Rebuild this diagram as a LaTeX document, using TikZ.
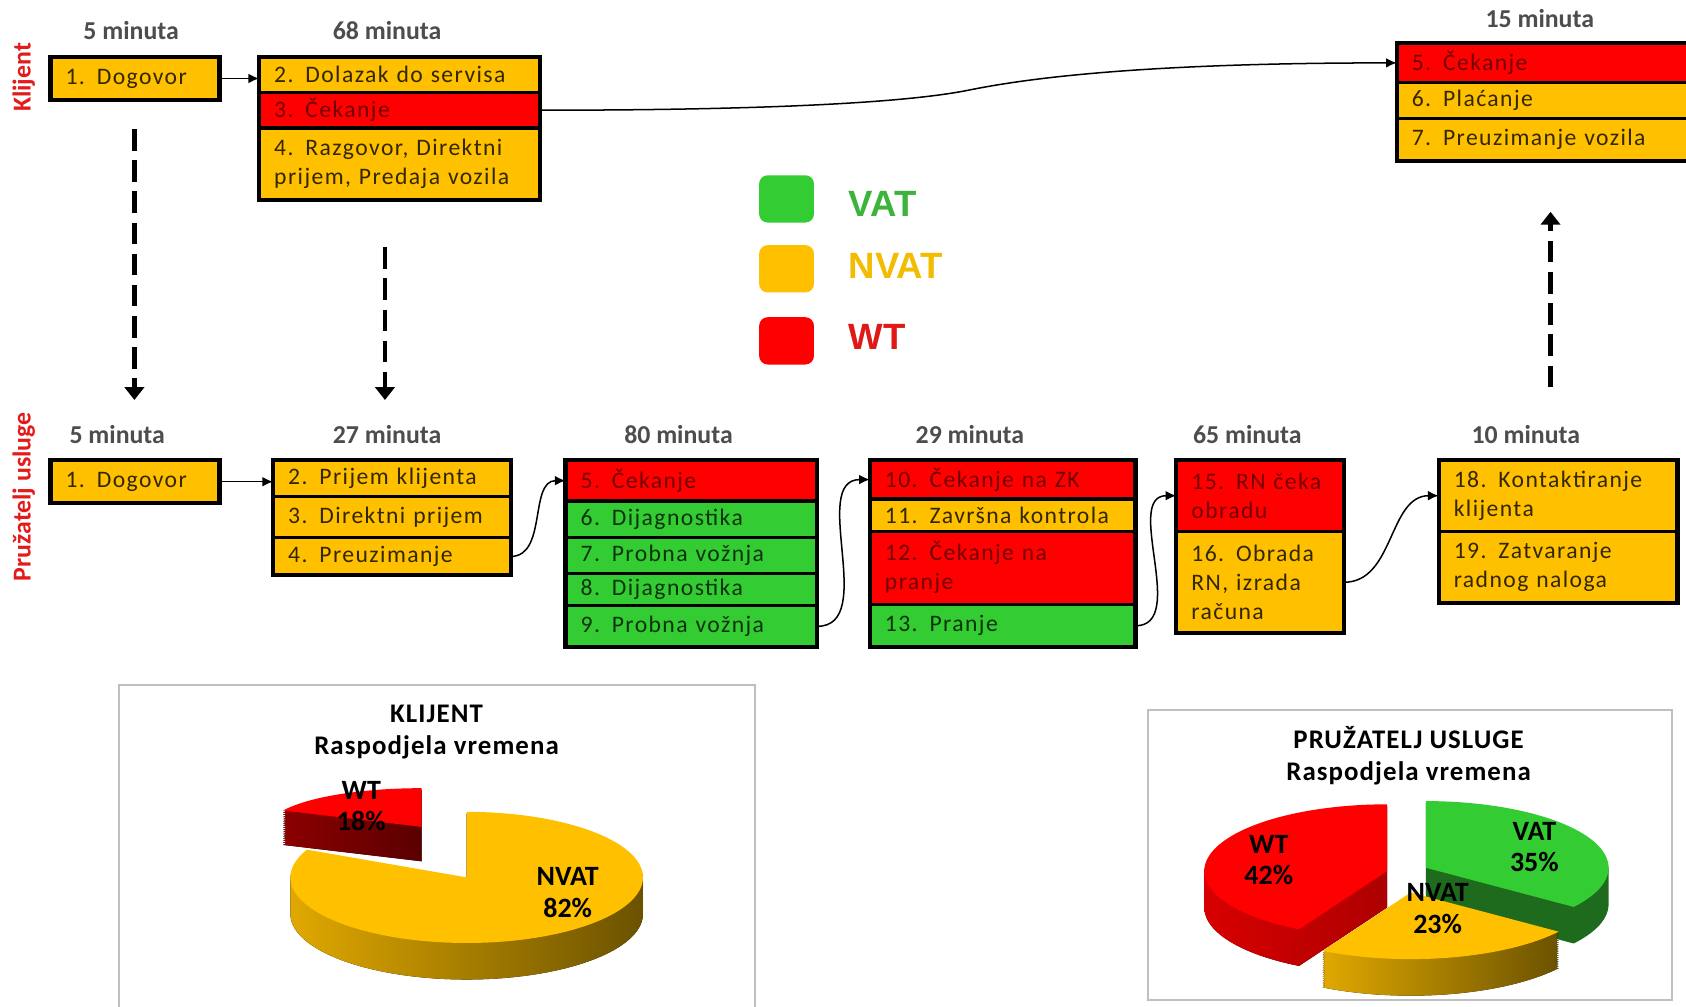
\documentclass[tikz,border=0pt]{standalone}
\usepackage{fontspec}
\setmainfont{Carlito}
\newfontfamily\boxfont{Carlito}[LetterSpace=6]
\newfontfamily\titlefont{Carlito}[LetterSpace=4]
\newfontfamily\legfont{Liberation Sans}
\usetikzlibrary{arrows.meta}

\definecolor{ylw}{HTML}{FFC000}
\definecolor{rd}{HTML}{FF0000}
\definecolor{grn}{HTML}{33CC33}
\definecolor{mingray}{HTML}{4D4D4D}
\definecolor{lanered}{HTML}{E31B1B}
\definecolor{vattext}{HTML}{3CB43C}
\definecolor{nvattext}{HTML}{F2BC00}
\definecolor{wttext}{HTML}{E01818}
\definecolor{ylwsideL}{HTML}{E0A800}
\definecolor{ylwsideR}{HTML}{6B5200}
\definecolor{redsideL}{HTML}{8C0000}
\definecolor{redsideR}{HTML}{5A0000}
\definecolor{redside}{HTML}{D80000}
\definecolor{grnside}{HTML}{1E6B1E}

\tikzset{%
  every node/.style={
    inner sep=1pt
  },
  actbox/.style={draw=black, line width=1.5pt, outer sep=0pt, inner xsep=7pt, inner ysep=2pt,
    align=left, font={\boxfont\fontsize{11}{13.5}\selectfont}},
  ylwrow/.style={actbox, fill=ylw, text=black!80!ylw},
  redrow/.style={actbox, fill=rd, text=black!55!rd},
  grnrow/.style={actbox, fill=grn, text=black!75!grn},
  boxframe/.style={draw=black, line width=2pt},
  minlabel/.style={font={\bfseries\fontsize{12}{14}\selectfont}, text=mingray},
  lanelabel/.style={font={\bfseries\fontsize{12}{14}\selectfont}, text=lanered, rotate=90},
  flow/.style={-{Latex[length=5pt,width=4.5pt]}, line width=0.7pt},
  dasharrow/.style={-{Triangle[length=6pt,width=9pt]}, line width=2.2pt, dash pattern=on 10pt off 4.5pt},
  legbox/.style={rounded corners=4pt, minimum width=25.5pt, minimum height=22pt},
  legtext/.style={font={\legfont\bfseries\fontsize{17}{20}\selectfont}, anchor=west},
  chartbox/.style={draw=black!25, line width=1pt},
  charttitle/.style={font={\titlefont\bfseries\fontsize{12.5}{15}\selectfont}, align=center},
  pielabel/.style={font={\bfseries\fontsize{13}{14.5}\selectfont}, align=center}
}

\begin{document}
\begin{tikzpicture}[x=0.5pt, y=-0.5pt]
      \useasboundingbox (0,0) rectangle (1568,936);
      \fill[white] (0,0) rectangle (1568,936);

      \node[lanelabel] (kl) at (22,72) {Klijent};
      \node[lanelabel] (pu) at (22,462) {Pružatelj usluge};

      \node[minlabel] (km1) at (122,28) {5 minuta};
      \node[minlabel] (km2) at (360,28) {68 minuta};
      \node[minlabel] (km3) at (1432,17) {15 minuta};

      \node[ylwrow, text width=64.5pt, minimum height=20pt] (k1) at (125.5,73) {1. Dogovor};
      \draw[boxframe] (k1.north west) rectangle (k1.south east);

      \node[ylwrow, text width=116.5pt, minimum height=16.5pt] (k2a) at (371.5,69.5) {2. Dolazak do servisa};
      \node[redrow, text width=116.5pt, minimum height=16.5pt] (k2b) at (371.5,102.5) {3. Čekanje};
      \node[ylwrow, text width=116.5pt, minimum height=33.5pt] (k2c) at (371.5,152.5) {4. Razgovor, Direktni\\prijem, Predaja vozila};
      \draw[boxframe] (k2a.north west) rectangle (k2c.south east);

      \node[redrow, text width=126pt, minimum height=18.5pt] (k3a) at (1439,58.5) {5. Čekanje};
      \node[ylwrow, text width=126pt, minimum height=16.5pt] (k3b) at (1439,93.5) {6. Plaćanje};
      \node[ylwrow, text width=126pt, minimum height=20pt] (k3c) at (1439,130) {7. Preuzimanje vozila};
      \draw[boxframe] (k3a.north west) rectangle (k3c.south east);

      \coordinate (bend) at (900,84);
      \draw[flow] (k1.east) -- (k1.east -| k2a.west);
      \draw[flow] (k2b.east) .. controls +(260,0) and +(-40,8) .. (bend) .. controls +(40,-8) and +(-260,0) .. (k3a.west);

      \node[legbox, fill=grn] (lg1) at (731.5,185) {};
      \node[legbox, fill=ylw] (lg2) at (731.5,250) {};
      \node[legbox, fill=rd] (lg3) at (731.5,317) {};
      \node[legtext, text=vattext] (lt1) at (787,190) {VAT};
      \node[legtext, text=nvattext] (lt2) at (787,247) {NVAT};
      \node[legtext, text=wttext] (lt3) at (787,313) {WT};

      \coordinate (d1a) at (125,120);
      \coordinate (d1b) at (125,372);
      \coordinate (d2a) at (358,230);
      \coordinate (d2b) at (358,372);
      \coordinate (d3a) at (1442,360);
      \coordinate (d3b) at (1442,197);
      \draw[dasharrow] (d1a) -- (d1b);
      \draw[dasharrow] (d2a) -- (d2b);
      \draw[dasharrow] (d3a) -- (d3b);

      \node[minlabel] (pm1) at (109,404) {5 minuta};
      \node[minlabel] (pm2) at (360,404) {27 minuta};
      \node[minlabel] (pm3) at (631,404) {80 minuta};
      \node[minlabel] (pm4) at (902,404) {29 minuta};
      \node[minlabel] (pm5) at (1160,404) {65 minuta};
      \node[minlabel] (pm6) at (1419,404) {10 minuta};

      \node[ylwrow, text width=64.5pt, minimum height=20pt] (p1) at (125.5,448) {1. Dogovor};
      \draw[boxframe] (p1.north west) rectangle (p1.south east);

      \node[ylwrow, text width=96.5pt, minimum height=17pt] (p2a) at (364.5,445) {2. Prijem klijenta};
      \node[ylwrow, text width=96.5pt, minimum height=19pt] (p2b) at (364.5,481) {3. Direktni prijem};
      \node[ylwrow, text width=96.5pt, minimum height=17.5pt] (p2c) at (364.5,517.5) {4. Preuzimanje};
      \draw[boxframe] (p2a.north west) rectangle (p2c.south east);

      \node[redrow, text width=103pt, minimum height=19pt] (p3a) at (643,447) {5. Čekanje};
      \node[grnrow, text width=103pt, minimum height=17pt] (p3b) at (643,483) {6. Dijagnostika};
      \node[grnrow, text width=103pt, minimum height=16.5pt] (p3c) at (643,516.5) {7. Probna vožnja};
      \node[grnrow, text width=103pt, minimum height=15pt] (p3d) at (643,548) {8. Dijagnostika};
      \node[grnrow, text width=103pt, minimum height=19.5pt] (p3e) at (643,582.5) {9. Probna vožnja};
      \draw[boxframe] (p3a.north west) rectangle (p3e.south east);

      \node[redrow, text width=109.5pt, minimum height=18pt] (p4a) at (932.5,446) {10. Čekanje na ZK};
      \node[ylwrow, text width=109.5pt, minimum height=15pt] (p4b) at (932.5,479) {11. Završna kontrola};
      \node[redrow, text width=109.5pt, minimum height=34pt] (p4c) at (932.5,528) {12. Čekanje na\\pranje};
      \node[grnrow, text width=109.5pt, minimum height=20pt] (p4d) at (932.5,582) {13. Pranje};
      \draw[boxframe] (p4a.north west) rectangle (p4d.south east);

      \node[redrow, text width=64pt, minimum height=33pt] (p5a) at (1172,461) {15. RN čeka\\obradu};
      \node[ylwrow, text width=64pt, minimum height=47.5pt] (p5b) at (1172,541.5) {16. Obrada\\RN, izrada\\računa};
      \draw[boxframe] (p5a.north west) rectangle (p5b.south east);

      \node[ylwrow, text width=97pt, minimum height=33pt] (p6a) at (1449,461) {18. Kontaktiranje\\klijenta};
      \node[ylwrow, text width=97pt, minimum height=33.5pt] (p6b) at (1449,527.5) {19. Zatvaranje\\radnog naloga};
      \draw[boxframe] (p6a.north west) rectangle (p6b.south east);

      \draw[flow] (p1.east) -- (p1.east -| p2a.west);
      \draw[flow] (p2c.east) to[out=0,in=180] (p3a.west);
      \draw[flow] (p3e.east) to[out=0,in=180] (p4a.west);
      \draw[flow] (p4d.east) to[out=0,in=180] (p5a.west);
      \draw[flow] (p5b.east) to[out=0,in=180] (p6a.west);

      \draw[chartbox] (111,637) rectangle (702,950);
      \node[charttitle] (ct1) at (406,681) {KLIJENT\\Raspodjela vremena};
      \fill[left color=redsideL, right color=redsideR] foreach \dz in {2,4,...,32} {(392,{769+\dz}) -- plot[domain=205:270, samples=30, variable=\t] ({392+142*cos(\t)},{769+\dz+36*sin(\t)}) -- cycle};
      \fill[rd] (392,769) -- plot[domain=205:270, samples=30, variable=\t] ({392+142*cos(\t)},{769+36*sin(\t)}) -- cycle;
      \fill[left color=ylwsideL, right color=ylwsideR] foreach \dz in {2,4,...,34} {(434,{816+\dz}) -- plot[domain=-90:205, samples=80, variable=\t] ({434+164*cos(\t)},{816+\dz+61*sin(\t)}) -- cycle};
      \fill[ylw] (434,816) -- plot[domain=-90:205, samples=80, variable=\t] ({434+164*cos(\t)},{816+61*sin(\t)}) -- cycle;
      \node[pielabel] (w1) at (336,750) {WT\\18\%};
      \node[pielabel] (n1) at (528,830) {NVAT\\82\%};

      \draw[chartbox] (1068,660) rectangle (1555,930);
      \node[charttitle] (ct2) at (1310,703) {PRUŽATELJ USLUGE\\Raspodjela vremena};
      \fill[grnside] foreach \dz in {2,4,...,34} {(1326,{807+\dz}) -- plot[domain=270:396, samples=50, variable=\t] ({1326+170*cos(\t)},{807+\dz+62*sin(\t)}) -- cycle};
      \fill[grn] (1326,807) -- plot[domain=270:396, samples=50, variable=\t] ({1326+170*cos(\t)},{807+62*sin(\t)}) -- cycle;
      \fill[left color=redside, right color=redside!80!black] foreach \dz in {2,4,...,34} {(1290,{810+\dz}) -- plot[domain=118.8:270, samples=50, variable=\t] ({1290+170*cos(\t)},{810+\dz+62*sin(\t)}) -- cycle};
      \fill[rd] (1290,810) -- plot[domain=118.8:270, samples=50, variable=\t] ({1290+170*cos(\t)},{810+62*sin(\t)}) -- cycle;
      \fill[left color=ylwsideL, right color=ylwsideR] foreach \dz in {2,4,...,34} {(1312,{830+\dz}) -- plot[domain=36:118.8, samples=40, variable=\t] ({1312+170*cos(\t)},{830+\dz+62*sin(\t)}) -- cycle};
      \fill[ylw] (1312,830) -- plot[domain=36:118.8, samples=40, variable=\t] ({1312+170*cos(\t)},{830+62*sin(\t)}) -- cycle;
      \node[pielabel] (w2) at (1180,800) {WT\\42\%};
      \node[pielabel] (v2) at (1427,788) {VAT\\35\%};
      \node[pielabel] (n2) at (1337,845) {NVAT\\23\%};
    \end{tikzpicture}
\end{document}
